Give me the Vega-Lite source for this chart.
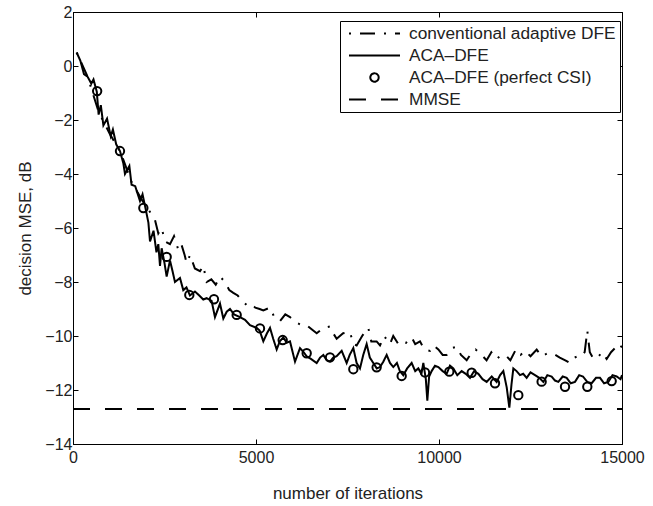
{
  "$schema": "https://vega.github.io/schema/vega-lite/v6.json",
  "width": 549,
  "height": 432,
  "autosize": {"type": "none"},
  "padding": {"left": 73, "top": 12, "right": 31, "bottom": 62},
  "config": {
    "view": {"stroke": "black", "strokeWidth": 1},
    "font": "Liberation Sans",
    "axis": {"domainColor": "black", "tickColor": "black", "labelColor": "#222", "titleColor": "#222", "grid": false, "labelFlush": false, "labelFont": "Liberation Sans", "titleFont": "Liberation Sans", "labelFontSize": 16, "titleFontSize": 17, "titleFontWeight": "normal"}
  },
  "datasets": {
    "conv": [
      {"iter": 100, "mse": 0.5}, {"iter": 400, "mse": -0.4}, {"iter": 700, "mse": -1.7}, {"iter": 1000, "mse": -2.5}, {"iter": 1300, "mse": -3.2}, {"iter": 1600, "mse": -4.3}, {"iter": 1900, "mse": -5.0},
      {"iter": 2150, "mse": -5.5}, {"iter": 2240, "mse": -5.7}, {"iter": 2331, "mse": -6.2}, {"iter": 2420, "mse": -6.0}, {"iter": 2520, "mse": -6.5}, {"iter": 2650, "mse": -6.6}, {"iter": 2760, "mse": -6.3}, {"iter": 2877, "mse": -6.8}, {"iter": 2960, "mse": -6.6}, {"iter": 3050, "mse": -7.0}, {"iter": 3104, "mse": -7.3}, {"iter": 3200, "mse": -7.0}, {"iter": 3330, "mse": -7.5}, {"iter": 3470, "mse": -7.6}, {"iter": 3560, "mse": -7.4}, {"iter": 3652, "mse": -8.0}, {"iter": 3780, "mse": -7.9}, {"iter": 3900, "mse": -8.1}, {"iter": 4020, "mse": -7.8}, {"iter": 4153, "mse": -8.0}, {"iter": 4270, "mse": -8.3}, {"iter": 4380, "mse": -8.4}, {"iter": 4500, "mse": -8.5}, {"iter": 4620, "mse": -8.7}, {"iter": 4745, "mse": -8.85}, {"iter": 4850, "mse": -8.8}, {"iter": 4980, "mse": -8.95}, {"iter": 5100, "mse": -9.0}, {"iter": 5200, "mse": -9.05}, {"iter": 5383, "mse": -8.95}, {"iter": 5500, "mse": -9.3}, {"iter": 5656, "mse": -9.45}, {"iter": 5800, "mse": -9.2}, {"iter": 5929, "mse": -9.3}, {"iter": 6100, "mse": -9.5}, {"iter": 6250, "mse": -9.6}, {"iter": 6385, "mse": -9.6}, {"iter": 6520, "mse": -9.75}, {"iter": 6658, "mse": -9.9}, {"iter": 6840, "mse": -9.7}, {"iter": 7022, "mse": -9.65}, {"iter": 7110, "mse": -9.9}, {"iter": 7204, "mse": -10.1}, {"iter": 7380, "mse": -9.9}, {"iter": 7568, "mse": -9.85}, {"iter": 7659, "mse": -10.3}, {"iter": 7750, "mse": -10.35}, {"iter": 7900, "mse": -10.0}, {"iter": 8023, "mse": -9.75}, {"iter": 8068, "mse": -9.7}, {"iter": 8150, "mse": -10.2}, {"iter": 8296, "mse": -10.2}, {"iter": 8388, "mse": -10.35}, {"iter": 8500, "mse": -10.0}, {"iter": 8661, "mse": -10.3}, {"iter": 8750, "mse": -10.0}, {"iter": 8889, "mse": -10.3}, {"iter": 9000, "mse": -10.2}, {"iter": 9100, "mse": -10.25}, {"iter": 9253, "mse": -10.05}, {"iter": 9350, "mse": -10.3}, {"iter": 9481, "mse": -10.2}, {"iter": 9600, "mse": -10.5}, {"iter": 9754, "mse": -10.55}, {"iter": 9850, "mse": -10.35}, {"iter": 9982, "mse": -10.5}, {"iter": 10100, "mse": -10.7}, {"iter": 10209, "mse": -10.7}, {"iter": 10350, "mse": -10.45}, {"iter": 10483, "mse": -10.4}, {"iter": 10600, "mse": -10.7}, {"iter": 10756, "mse": -10.9}, {"iter": 10900, "mse": -10.6}, {"iter": 11000, "mse": -10.5}, {"iter": 11166, "mse": -10.7}, {"iter": 11300, "mse": -10.9}, {"iter": 11430, "mse": -10.6}, {"iter": 11576, "mse": -10.85}, {"iter": 11700, "mse": -10.7}, {"iter": 11849, "mse": -10.75}, {"iter": 11950, "mse": -10.9}, {"iter": 12100, "mse": -10.5}, {"iter": 12230, "mse": -10.7}, {"iter": 12350, "mse": -10.55}, {"iter": 12500, "mse": -10.75}, {"iter": 12669, "mse": -10.5}, {"iter": 12800, "mse": -10.75}, {"iter": 12950, "mse": -10.65}, {"iter": 13115, "mse": -10.65}, {"iter": 13300, "mse": -10.8}, {"iter": 13450, "mse": -10.9}, {"iter": 13579, "mse": -11.0}, {"iter": 13700, "mse": -10.8}, {"iter": 13800, "mse": -10.75}, {"iter": 13898, "mse": -10.75}, {"iter": 13980, "mse": -10.6}, {"iter": 14052, "mse": -9.8}, {"iter": 14120, "mse": -10.6}, {"iter": 14200, "mse": -10.8}, {"iter": 14308, "mse": -10.85}, {"iter": 14450, "mse": -10.6}, {"iter": 14581, "mse": -10.85}, {"iter": 14700, "mse": -10.6}, {"iter": 14809, "mse": -10.45}, {"iter": 14900, "mse": -10.55}, {"iter": 15000, "mse": -10.35}
    ],
    "aca": [
      {"iter": 100, "mse": 0.5}, {"iter": 200, "mse": 0.2}, {"iter": 300, "mse": -0.3}, {"iter": 400, "mse": -0.4}, {"iter": 500, "mse": -0.65}, {"iter": 560, "mse": -0.5}, {"iter": 650, "mse": -0.95}, {"iter": 700, "mse": -1.8}, {"iter": 760, "mse": -1.45}, {"iter": 830, "mse": -2.2}, {"iter": 930, "mse": -1.95}, {"iter": 1030, "mse": -2.6}, {"iter": 1090, "mse": -2.35}, {"iter": 1180, "mse": -2.9}, {"iter": 1284, "mse": -3.15}, {"iter": 1375, "mse": -3.6}, {"iter": 1420, "mse": -4.0}, {"iter": 1540, "mse": -3.7}, {"iter": 1600, "mse": -4.4}, {"iter": 1700, "mse": -4.45}, {"iter": 1830, "mse": -5.0}, {"iter": 1900, "mse": -4.75}, {"iter": 1970, "mse": -5.2}, {"iter": 2060, "mse": -5.8}, {"iter": 2104, "mse": -6.5}, {"iter": 2200, "mse": -6.1}, {"iter": 2280, "mse": -6.9}, {"iter": 2331, "mse": -6.6}, {"iter": 2377, "mse": -7.4}, {"iter": 2422, "mse": -6.75}, {"iter": 2500, "mse": -7.3}, {"iter": 2559, "mse": -7.8}, {"iter": 2650, "mse": -7.2}, {"iter": 2720, "mse": -7.6}, {"iter": 2786, "mse": -8.0}, {"iter": 2923, "mse": -7.85}, {"iter": 3013, "mse": -8.3}, {"iter": 3100, "mse": -8.2}, {"iter": 3195, "mse": -8.5}, {"iter": 3332, "mse": -8.35}, {"iter": 3450, "mse": -8.5}, {"iter": 3559, "mse": -8.65}, {"iter": 3650, "mse": -8.6}, {"iter": 3787, "mse": -8.7}, {"iter": 3879, "mse": -9.3}, {"iter": 4016, "mse": -8.8}, {"iter": 4107, "mse": -9.35}, {"iter": 4200, "mse": -9.1}, {"iter": 4289, "mse": -9.0}, {"iter": 4400, "mse": -9.2}, {"iter": 4563, "mse": -9.3}, {"iter": 4700, "mse": -9.4}, {"iter": 4836, "mse": -9.6}, {"iter": 5018, "mse": -9.7}, {"iter": 5100, "mse": -9.8}, {"iter": 5200, "mse": -10.2}, {"iter": 5300, "mse": -9.9}, {"iter": 5383, "mse": -9.7}, {"iter": 5470, "mse": -10.1}, {"iter": 5565, "mse": -10.5}, {"iter": 5650, "mse": -10.2}, {"iter": 5747, "mse": -10.05}, {"iter": 5840, "mse": -10.25}, {"iter": 5929, "mse": -10.2}, {"iter": 6066, "mse": -10.95}, {"iter": 6202, "mse": -10.45}, {"iter": 6300, "mse": -10.6}, {"iter": 6385, "mse": -10.75}, {"iter": 6500, "mse": -10.85}, {"iter": 6658, "mse": -11.0}, {"iter": 6750, "mse": -10.8}, {"iter": 6840, "mse": -10.7}, {"iter": 6930, "mse": -10.9}, {"iter": 7022, "mse": -10.95}, {"iter": 7110, "mse": -10.8}, {"iter": 7204, "mse": -10.75}, {"iter": 7341, "mse": -10.55}, {"iter": 7477, "mse": -11.0}, {"iter": 7560, "mse": -10.7}, {"iter": 7659, "mse": -10.45}, {"iter": 7750, "mse": -11.0}, {"iter": 7841, "mse": -11.2}, {"iter": 7930, "mse": -10.7}, {"iter": 8023, "mse": -10.3}, {"iter": 8110, "mse": -10.8}, {"iter": 8205, "mse": -11.0}, {"iter": 8300, "mse": -11.2}, {"iter": 8388, "mse": -11.15}, {"iter": 8478, "mse": -10.95}, {"iter": 8570, "mse": -10.7}, {"iter": 8660, "mse": -11.0}, {"iter": 8751, "mse": -11.15}, {"iter": 8850, "mse": -11.0}, {"iter": 8930, "mse": -11.3}, {"iter": 9024, "mse": -11.45}, {"iter": 9130, "mse": -11.2}, {"iter": 9253, "mse": -11.0}, {"iter": 9350, "mse": -11.3}, {"iter": 9435, "mse": -11.2}, {"iter": 9520, "mse": -11.4}, {"iter": 9572, "mse": -11.0}, {"iter": 9640, "mse": -11.6}, {"iter": 9681, "mse": -12.4}, {"iter": 9730, "mse": -11.5}, {"iter": 9799, "mse": -11.3}, {"iter": 9890, "mse": -11.1}, {"iter": 9982, "mse": -11.15}, {"iter": 10100, "mse": -11.3}, {"iter": 10209, "mse": -11.4}, {"iter": 10300, "mse": -11.1}, {"iter": 10392, "mse": -11.2}, {"iter": 10500, "mse": -11.45}, {"iter": 10619, "mse": -11.3}, {"iter": 10730, "mse": -11.4}, {"iter": 10847, "mse": -11.55}, {"iter": 10960, "mse": -11.3}, {"iter": 11075, "mse": -11.4}, {"iter": 11190, "mse": -11.6}, {"iter": 11302, "mse": -11.7}, {"iter": 11440, "mse": -11.5}, {"iter": 11576, "mse": -11.7}, {"iter": 11670, "mse": -11.45}, {"iter": 11758, "mse": -11.3}, {"iter": 11850, "mse": -11.9}, {"iter": 11922, "mse": -12.65}, {"iter": 11980, "mse": -11.8}, {"iter": 12031, "mse": -11.2}, {"iter": 12120, "mse": -11.3}, {"iter": 12213, "mse": -11.45}, {"iter": 12300, "mse": -11.4}, {"iter": 12395, "mse": -11.55}, {"iter": 12500, "mse": -11.35}, {"iter": 12623, "mse": -11.45}, {"iter": 12740, "mse": -11.55}, {"iter": 12850, "mse": -11.7}, {"iter": 12960, "mse": -11.45}, {"iter": 13078, "mse": -11.5}, {"iter": 13170, "mse": -11.65}, {"iter": 13260, "mse": -11.7}, {"iter": 13380, "mse": -11.5}, {"iter": 13488, "mse": -11.55}, {"iter": 13600, "mse": -11.75}, {"iter": 13716, "mse": -11.7}, {"iter": 13830, "mse": -11.45}, {"iter": 13934, "mse": -11.5}, {"iter": 14050, "mse": -11.7}, {"iter": 14171, "mse": -11.75}, {"iter": 14290, "mse": -11.55}, {"iter": 14399, "mse": -11.55}, {"iter": 14510, "mse": -11.75}, {"iter": 14627, "mse": -11.7}, {"iter": 14740, "mse": -11.45}, {"iter": 14854, "mse": -11.5}, {"iter": 14960, "mse": -11.6}, {"iter": 15000, "mse": -11.45}
    ],
    "csi": [
      {"iter": 660, "mse": -0.93}, {"iter": 1284, "mse": -3.15}, {"iter": 1922, "mse": -5.26}, {"iter": 2559, "mse": -7.07}, {"iter": 3178, "mse": -8.48}, {"iter": 3852, "mse": -8.64}, {"iter": 4472, "mse": -9.22}, {"iter": 5109, "mse": -9.72}, {"iter": 5729, "mse": -10.15}, {"iter": 6385, "mse": -10.64}, {"iter": 7022, "mse": -10.79}, {"iter": 7659, "mse": -11.23}, {"iter": 8296, "mse": -11.16}, {"iter": 8980, "mse": -11.48}, {"iter": 9617, "mse": -11.35}, {"iter": 10281, "mse": -11.32}, {"iter": 10893, "mse": -11.36}, {"iter": 11530, "mse": -11.75}, {"iter": 12167, "mse": -12.19}, {"iter": 12804, "mse": -11.69}, {"iter": 13443, "mse": -11.88}, {"iter": 14052, "mse": -11.88}, {"iter": 14718, "mse": -11.67}
    ],
    "mmse": [
      {"iter": 0, "mse": -12.7}, {"iter": 15000, "mse": -12.7}
    ]
  },
  "resolve": {"axis": {"x": "independent", "y": "independent"}},
  "layer": [
    {
      "data": {"name": "conv"},
      "transform": [{"calculate": "'conventional adaptive DFE'", "as": "series"}],
      "mark": {"type": "line", "color": "black", "strokeWidth": 2, "strokeDash": [2, 9, 15, 9]},
      "encoding": {
        "x": {"field": "iter", "type": "quantitative", "scale": {"domain": [0, 15000], "nice": false}, "axis": {"orient": "bottom", "values": [0, 5000, 10000, 15000], "format": "d", "tickSize": -5, "labelPadding": 10, "title": "number of iterations", "titleY": 54, "titleBaseline": "alphabetic"}},
        "y": {"field": "mse", "type": "quantitative", "scale": {"domain": [-14, 2], "nice": false, "zero": false}, "axis": {"orient": "left", "values": [-14, -12, -10, -8, -6, -4, -2, 0, 2], "format": "d", "tickSize": -5, "labelPadding": 6, "title": "decision MSE, dB", "titleX": -43, "titleY": 216, "titleBaseline": "alphabetic"}},
        "strokeDash": {
          "field": "series", "type": "nominal",
          "scale": {"domain": ["conventional adaptive DFE", "ACA–DFE", "ACA–DFE (perfect CSI)", "MMSE"], "range": [[2, 9, 15, 9], [1, 0], [1, 0], [17, 15]]},
          "legend": {
            "title": null, "orient": "none", "legendX": 267, "legendY": 9,
            "fillColor": "white", "strokeColor": "black", "padding": 4, "rowPadding": 4, "clipHeight": 17,
            "symbolType": "stroke", "symbolSize": 2601, "symbolStrokeWidth": 2, "symbolStrokeColor": "black", "symbolOffset": 4, "labelOffset": 8, "labelLimit": 400,
            "labelFont": "Liberation Sans", "labelFontSize": 17.3, "labelColor": "#222",
            "encode": {"symbols": {"update": {
              "shape": {"signal": "datum.value === 'ACA–DFE (perfect CSI)' ? 'circle' : 'stroke'"},
              "size": {"signal": "datum.value === 'ACA–DFE (perfect CSI)' ? 70 : 2601"},
              "fill": {"value": "transparent"}
            }}}
          }
        }
      }
    },
    {
      "data": {"name": "aca"},
      "mark": {"type": "line", "color": "black", "strokeWidth": 2},
      "encoding": {
        "x": {"field": "iter", "type": "quantitative", "axis": null},
        "y": {"field": "mse", "type": "quantitative", "axis": null}
      }
    },
    {
      "data": {"name": "mmse"},
      "mark": {"type": "line", "color": "black", "strokeWidth": 2, "strokeDash": [17, 15]},
      "encoding": {
        "x": {"field": "iter", "type": "quantitative", "axis": null},
        "y": {"field": "mse", "type": "quantitative", "axis": null}
      }
    },
    {
      "data": {"name": "csi"},
      "mark": {"type": "point", "filled": false, "color": "black", "strokeWidth": 2, "size": 70, "opacity": 1},
      "encoding": {
        "x": {"field": "iter", "type": "quantitative", "axis": {"orient": "top", "values": [0, 5000, 10000, 15000], "tickSize": -5, "labels": false, "title": null}},
        "y": {"field": "mse", "type": "quantitative", "axis": {"orient": "right", "values": [-14, -12, -10, -8, -6, -4, -2, 0, 2], "tickSize": -5, "labels": false, "title": null}}
      }
    }
  ]
}
